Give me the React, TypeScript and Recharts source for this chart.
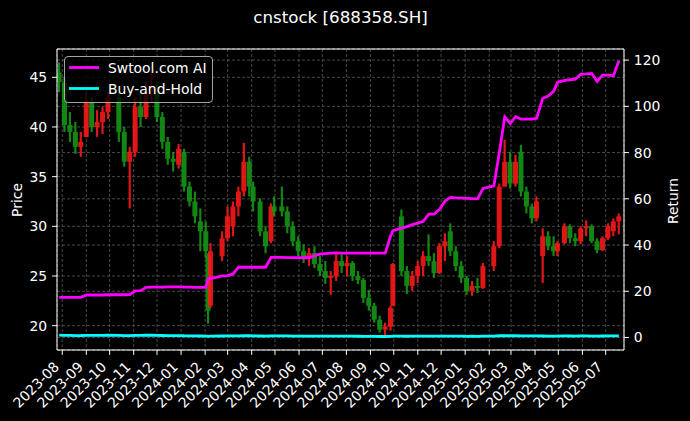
import React from "react"
import {
  ComposedChart,
  Bar,
  Line,
  XAxis,
  YAxis,
  CartesianGrid,
  ReferenceLine,
} from "recharts"

// weekly bars (a few single days kept where the move was big)
const dates = [
  "2023-07-28",
  "2023-08-04", "2023-08-11", "2023-08-18", "2023-08-25",
  "2023-09-01", "2023-09-08", "2023-09-15", "2023-09-22", "2023-09-29",
  "2023-10-13", "2023-10-20", "2023-10-27",
  "2023-11-03", "2023-11-10", "2023-11-17", "2023-11-24",
  "2023-12-01", "2023-12-08", "2023-12-15", "2023-12-22", "2023-12-29",
  "2024-01-05", "2024-01-12", "2024-01-19", "2024-01-26",
  "2024-02-02", "2024-02-05", "2024-02-08", "2024-02-23",
  "2024-03-01", "2024-03-08", "2024-03-15", "2024-03-22", "2024-03-29",
  "2024-04-03", "2024-04-12", "2024-04-19", "2024-04-26", "2024-04-30",
  "2024-05-10", "2024-05-17", "2024-05-24", "2024-05-31",
  "2024-06-07", "2024-06-14", "2024-06-21", "2024-06-28",
  "2024-07-05", "2024-07-12", "2024-07-19", "2024-07-26",
  "2024-08-02", "2024-08-09", "2024-08-16", "2024-08-23", "2024-08-30",
  "2024-09-06", "2024-09-13", "2024-09-20", "2024-09-27", "2024-09-30",
  "2024-10-11", "2024-10-18", "2024-10-25",
  "2024-11-01", "2024-11-08", "2024-11-15", "2024-11-22", "2024-11-29",
  "2024-12-06", "2024-12-13", "2024-12-20", "2024-12-27",
  "2025-01-03", "2025-01-10", "2025-01-17", "2025-01-24",
  "2025-02-07", "2025-02-14", "2025-02-21", "2025-02-28",
  "2025-03-07", "2025-03-14", "2025-03-21", "2025-03-28",
  "2025-04-03", "2025-04-11", "2025-04-18", "2025-04-25", "2025-04-30",
  "2025-05-09", "2025-05-16", "2025-05-23", "2025-05-30",
  "2025-06-06", "2025-06-13", "2025-06-20", "2025-06-27",
  "2025-07-04", "2025-07-11", "2025-07-18",
]

const opens = [
  45.5,
  44.5, 40.2, 39.5, 38,
  39, 42.5, 40, 40.5, 41.5,
  43, 39.5, 36.5,
  37.5, 42, 41, 43.5,
  44, 41, 38.5, 36.8, 36.2,
  37.5, 34, 32.5, 30.5,
  29.5, 27, 22, 27,
  28.8, 30, 32, 33.5, 36.5,
  34, 32.5, 29.5, 28.5, 32,
  32, 31.5, 30, 28.5,
  27.5, 26.8, 27.3, 26.2,
  25.5, 24.8, 25, 26.5,
  26, 26.3, 25, 24.6, 22.8,
  22, 20.6, 19.6, 19.9, 22,
  31, 25.5, 24,
  25, 26, 27, 26.5, 25.3,
  28, 29.5, 27.5, 26,
  24.8, 23.5, 24, 23.8,
  26, 28, 34, 36.5,
  34.3, 37.5, 33.5, 32,
  30.8, 27, 29, 28, 27.5,
  28.3, 30, 28.8, 28.5,
  29.8, 30, 28.5, 27.6,
  28.8, 29.5, 30.5,
]

const highs = [
  46.5,
  45, 41.5, 40.5, 39.5,
  43.6, 43, 41.7, 42, 43.5,
  43.5, 40, 38,
  43, 43.5, 44.5, 45.5,
  44.5, 41.5, 39, 37.5, 38.3,
  37.8, 34.5, 33.5, 31.8,
  30.5, 27.3, 28.3, 29.5,
  32, 32.5, 34, 38.4, 37,
  34.5, 32.8, 30, 32.3, 33,
  34, 32, 30.5, 29,
  28.2, 27.8, 28, 27,
  26.5, 25.5, 27.2, 27.2,
  27, 26.5, 25.5, 24.8, 23.6,
  22.3, 21, 20.3, 22, 26.3,
  31.7, 26, 25.5,
  26.5, 27.5, 29.2, 27.3, 28.3,
  29.3, 30.3, 28, 26.5,
  25, 24.5, 24.8, 26.3,
  28.5, 34.3, 38.7, 37.5,
  37.2, 38.2, 34, 32.3,
  33, 29.8, 29.5, 29, 28.5,
  30.3, 30.2, 29.3, 30,
  30.6, 30.2, 28.8, 29,
  30.3, 30.8, 31.3,
]

const lows = [
  43.5,
  39.5, 38.5, 37.3, 37,
  39, 39.5, 39, 39.3, 40.8,
  38.5, 36, 31.8,
  37, 40, 40.8, 42.5,
  40.5, 37.8, 36.2, 35.5, 35.8,
  33.5, 32, 30.3, 27.5,
  26.8, 20.2, 21.8, 26.5,
  28.5, 29, 31, 33, 33,
  31.5, 29, 27.3, 28.3, 31,
  31, 29.3, 28, 27,
  26.3, 26, 25.8, 25,
  24.2, 23.1, 24.5, 25.3,
  25, 24.5, 24.2, 22.3, 21.5,
  20.3, 19.3, 19.05, 19.5, 22,
  25, 23.2, 23.5,
  24.3, 25, 26, 24.8, 25.2,
  26.5, 27, 25.5, 24.3,
  23.1, 23, 23.3, 23.7,
  25.5, 27.8, 34, 33.8,
  34, 33, 31.3, 30.3,
  30.5, 24.3, 27.6, 27, 27,
  28.2, 28.3, 28, 28.2,
  29, 28.3, 27.3, 27.5,
  28.6, 29, 29.2,
]

const closes = [
  44.5,
  40.2, 39.5, 38, 38.5,
  42.5, 40, 40.5, 41.5, 43,
  39.5, 36.5, 37.5,
  42, 41, 43.5, 44,
  41, 38.5, 36.8, 36.5, 37.8,
  34, 32.5, 31, 29.5,
  27.5, 21.5, 27.5, 28.8,
  31, 32, 33.5, 36.5, 34,
  32.5, 29.5, 28, 32, 31.5,
  31.5, 30, 28.5, 27.5,
  26.8, 27.3, 26.2, 25.5,
  24.8, 25, 26.5, 26,
  26.3, 25, 24.6, 22.8, 22,
  20.6, 19.6, 19.9, 21.8, 26.2,
  25.5, 24, 25,
  26, 27, 26.5, 25.3, 28,
  28.5, 27.5, 26, 24.8,
  23.5, 24, 23.8, 26,
  28, 34, 36.5, 34.3,
  36.5, 33.5, 32, 30.8,
  32.5, 29, 28, 27.5, 28.3,
  30, 28.8, 28.5, 29.8,
  30, 28.5, 27.6, 28.8,
  30, 30.5, 31,
]

const strategy = [
  17.4,
  17.4, 17.4, 17.4, 17.4,
  18.4, 18.4, 18.4, 18.4, 18.5,
  18.5, 18.5, 18.6,
  20.2, 20.3, 21.7, 21.8,
  21.8, 21.8, 21.9, 21.9, 21.9,
  21.8, 21.8, 21.7, 21.7,
  21.7, 25.3, 25.5, 26.7,
  26.7, 27.5, 30.4, 30.4, 30.4,
  30.4, 30.4, 30.4, 34.7, 34.7,
  34.7, 34.6, 34.6, 34.5,
  34.5, 34.5, 35.4, 36.1,
  36.3, 36.5, 36.6, 36.5,
  36.5, 36.5, 36.5, 36.5, 36.5,
  36.5, 36.5, 36.5, 44.0, 46.2,
  47.3, 48.0, 48.8,
  49.5, 50.3, 53.4, 53.4, 55.5,
  59.0, 60.6, 60.4, 60.3,
  60.2, 60.1, 60.0, 64.5,
  65.6, 80.0, 95.5, 92.6,
  95.5, 94.5, 94.5, 94.5,
  94.8, 103.5, 104.5, 106.5, 110.4,
  111.2, 111.5, 111.8, 113.9,
  114.0, 114.2, 110.8, 113.5,
  113.5, 113.2, 119.7,
]

const buyHold = [
  1.0,
  0.9, 0.89, 0.85, 0.87,
  0.96, 0.9, 0.91, 0.93, 0.97,
  0.89, 0.82, 0.84,
  0.94, 0.92, 0.98, 0.99,
  0.92, 0.87, 0.83, 0.82, 0.85,
  0.76, 0.73, 0.7, 0.66,
  0.62, 0.48, 0.62, 0.65,
  0.7, 0.72, 0.75, 0.82, 0.76,
  0.73, 0.66, 0.63, 0.72, 0.71,
  0.71, 0.67, 0.64, 0.62,
  0.6, 0.61, 0.59, 0.57,
  0.56, 0.56, 0.6, 0.58,
  0.59, 0.56, 0.55, 0.51, 0.49,
  0.46, 0.44, 0.45, 0.49, 0.59,
  0.57, 0.54, 0.56,
  0.58, 0.61, 0.6, 0.57, 0.63,
  0.64, 0.62, 0.58, 0.56,
  0.53, 0.54, 0.53, 0.58,
  0.63, 0.76, 0.82, 0.77,
  0.82, 0.75, 0.72, 0.69,
  0.73, 0.65, 0.63, 0.62, 0.64,
  0.67, 0.65, 0.64, 0.67,
  0.67, 0.64, 0.62, 0.65,
  0.67, 0.69, 0.7,
]

const monthLabels = [
  "2023-08", "2023-09", "2023-10", "2023-11", "2023-12",
  "2024-01", "2024-02", "2024-03", "2024-04", "2024-05", "2024-06",
  "2024-07", "2024-08", "2024-09", "2024-10", "2024-11", "2024-12",
  "2025-01", "2025-02", "2025-03", "2025-04", "2025-05", "2025-06",
  "2025-07",
]

const priceTicks = [20, 25, 30, 35, 40, 45]
const returnTicks = [0, 20, 40, 60, 80, 100, 120]

const FONT = "DejaVu Sans, Verdana, sans-serif"
const UP = "#ff1a1a"
const DOWN = "#169a16"
const GRID = "#5a5a5a"

const toDay = (s: string) => Date.parse(s + "T00:00:00Z") / 86400000

const monthDays = monthLabels.map((m) => toDay(m + "-01"))
const firstMonth = monthDays[0]
const xDomain = [firstMonth - 6.8, firstMonth + 723.6]

const chartData = dates.map((d, i) => ({
  t: toDay(d),
  open: opens[i],
  high: highs[i],
  low: lows[i],
  close: closes[i],
  range: [lows[i], highs[i]],
  strategy: strategy[i],
  buyHold: buyHold[i],
}))

function Candle(props: any) {
  const { x, y, width, height, payload } = props
  if (!payload || height == null) return null
  const { open, close, high, low } = payload
  const top = Math.min(y, y + height)
  const h = Math.abs(height)
  const k = h / (high - low || 1)
  const yo = top + (high - open) * k
  const yc = top + (high - close) * k
  const color = close >= open ? UP : DOWN
  const cx = x + width / 2
  const bodyTop = Math.min(yo, yc)
  const bodyH = Math.max(Math.abs(yo - yc), 1.5)
  return (
    <g opacity={0.88}>
      <line x1={cx} x2={cx} y1={top} y2={top + h} stroke={color} strokeWidth={2.2} />
      <rect x={cx - 2.5} y={bodyTop} width={5} height={bodyH} fill={color} />
    </g>
  )
}

function MonthTick(props: any) {
  const { x, y, payload } = props
  const label = monthLabels[monthDays.indexOf(payload.value)]
  const ox = x - 2.3
  const oy = y + 12.8
  return (
    <text
      x={ox}
      y={oy}
      transform={`rotate(-45, ${ox}, ${oy})`}
      textAnchor="end"
      fill="#fff"
      fontSize={13.9}
      fontFamily={FONT}
    >
      {label}
    </text>
  )
}

const tickStyle = { fill: "#fff", fontSize: 13.9, fontFamily: FONT }

export default function App() {
  return (
    <div
      style={{
        position: "fixed",
        left: 0,
        top: 0,
        width: 690,
        height: 421,
        background: "#000",
        overflow: "hidden",
      }}
    >
      <ComposedChart
        width={690}
        height={421}
        data={chartData}
        margin={{ top: 49, right: 0, bottom: 0, left: 0 }}
      >
        <CartesianGrid
          yAxisId="left"
          stroke={GRID}
          strokeDasharray="3 2"
          strokeWidth={0.8}
        />
        <CartesianGrid
          yAxisId="right"
          vertical={false}
          stroke={GRID}
          strokeDasharray="3 2"
          strokeWidth={0.8}
        />
        <XAxis
          dataKey="t"
          type="number"
          domain={xDomain}
          ticks={monthDays}
          allowDataOverflow
          interval={0}
          height={71}
          tickSize={4.9}
          tickMargin={0}
          stroke="#fff"
          tickLine={{ stroke: "#fff" }}
          tick={<MonthTick />}
        />
        <YAxis
          yAxisId="left"
          domain={[17.55, 47.85]}
          ticks={priceTicks}
          allowDataOverflow
          width={57}
          tickSize={4.9}
          tickMargin={4.9}
          stroke="#fff"
          tick={tickStyle}
        />
        <YAxis
          yAxisId="right"
          orientation="right"
          domain={[-5.4, 124.8]}
          ticks={returnTicks}
          allowDataOverflow
          width={66}
          tickSize={4.9}
          tickMargin={4.9}
          stroke="#fff"
          tick={tickStyle}
        />
        <Bar
          yAxisId="left"
          dataKey="range"
          barSize={5}
          shape={(p: any) => <Candle {...p} />}
          isAnimationActive={false}
        />
        <Line
          yAxisId="right"
          type="linear"
          dataKey="strategy"
          stroke="#ff00ff"
          strokeWidth={2.8}
          dot={false}
          isAnimationActive={false}
          name="Swtool.com AI"
        />
        <Line
          yAxisId="right"
          type="linear"
          dataKey="buyHold"
          stroke="#00ffff"
          strokeWidth={2.8}
          dot={false}
          isAnimationActive={false}
          name="Buy-and-Hold"
        />
        <ReferenceLine yAxisId="left" y={47.85} stroke="#fff" strokeWidth={1} />
      </ComposedChart>

      <svg
        width={690}
        height={421}
        style={{ position: "absolute", left: 0, top: 0, pointerEvents: "none" }}
        fontFamily={FONT}
      >
        <text x={340.5} y={23} textAnchor="middle" fill="#fff" fontSize={16.7}>
          cnstock [688358.SH]
        </text>
        <text
          x={17}
          y={200}
          transform="rotate(-90, 17, 200)"
          textAnchor="middle"
          dominantBaseline="central"
          fill="#fff"
          fontSize={13.9}
        >
          Price
        </text>
        <text
          x={672.5}
          y={201}
          transform="rotate(-90, 672.5, 201)"
          textAnchor="middle"
          dominantBaseline="central"
          fill="#fff"
          fontSize={13.9}
        >
          Return
        </text>
        <rect
          x={64.5}
          y={56.5}
          width={148}
          height={46}
          rx={3.5}
          fill="#000"
          fillOpacity={0.8}
          stroke="#ccc"
          strokeOpacity={0.8}
        />
        <line x1={69} x2={99} y1={67.5} y2={67.5} stroke="#ff00ff" strokeWidth={2.8} />
        <text x={108} y={73} fill="#fff" fontSize={13.9}>
          Swtool.com AI
        </text>
        <line x1={69} x2={99} y1={88.5} y2={88.5} stroke="#00ffff" strokeWidth={2.8} />
        <text x={108} y={93.5} fill="#fff" fontSize={13.9}>
          Buy-and-Hold
        </text>
      </svg>
    </div>
  )
}
